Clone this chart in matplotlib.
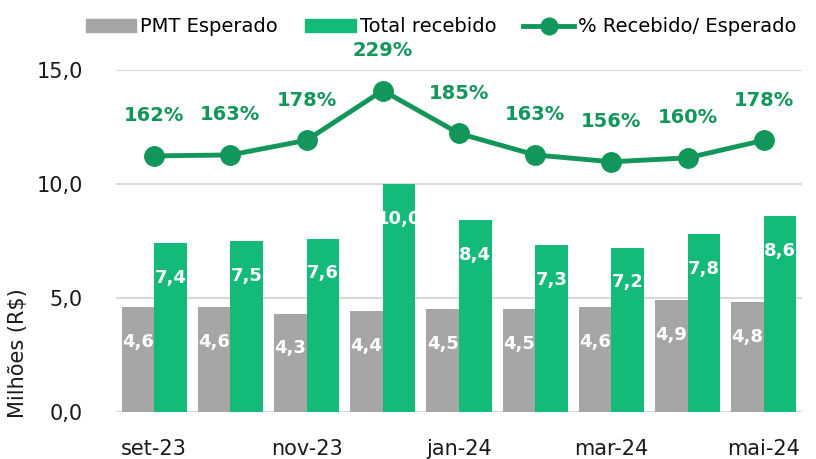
import matplotlib
matplotlib.use('Agg')
import matplotlib.pyplot as plt
import numpy as np
from matplotlib.patches import Patch
from matplotlib.lines import Line2D

## data ##
meses = ['set-23', 'out-23', 'nov-23', 'dez-23', 'jan-24', 'fev-24', 'mar-24', 'abr-24', 'mai-24']
pmt_esperado = [4.6, 4.6, 4.3, 4.4, 4.5, 4.5, 4.6, 4.9, 4.8]
total_recebido = [7.4, 7.5, 7.6, 10.0, 8.4, 7.3, 7.2, 7.8, 8.6]
pct_recebido = [1.62, 1.63, 1.78, 2.29, 1.85, 1.63, 1.56, 1.60, 1.78]

cinza = '#A6A6A6'
verde = '#13BA78'
verde_escuro = '#12965A'

plt.rcParams['font.family'] = ['DejaVu Sans']

fig = plt.figure(figsize=(8.16, 4.59), dpi=100)
ax = fig.add_axes([116/816, 1-411.7/459, 686/816, 341.7/459])

x = np.arange(len(meses))
w = 0.427
b1 = ax.bar(x - w/2, pmt_esperado, w, color=cinza, zorder=2)
b2 = ax.bar(x + w/2, total_recebido, w, color=verde, zorder=2)

def fmt(v):
    return f'{v:.1f}'.replace('.', ',')

for bars, vals in ((b1, pmt_esperado), (b2, total_recebido)):
    for r, v in zip(bars, vals):
        t = ax.annotate(fmt(v), (r.get_x() + r.get_width()/2, v),
                        xytext=(0, -25), textcoords='offset points',
                        ha='center', va='center', color='white',
                        fontsize=13, fontweight='bold', zorder=3)
        t.set_clip_path(r)

ax.set_xlim(-0.5, len(meses) - 0.5)
ax.set_ylim(0, 15)
ax.set_yticks([0, 5, 10, 15])
ax.set_yticklabels([fmt(v) for v in [0, 5, 10, 15]])
ax.set_xticks(x[::2])
ax.set_xticklabels(meses[::2])
ax.tick_params(axis='both', length=0, labelsize=15, colors='#1a1a1a')
ax.tick_params(axis='y', pad=24)
ax.tick_params(axis='x', pad=20)
ax.grid(axis='y', color='#D9D9D9', linewidth=1.5, zorder=0)
ax.set_axisbelow(True)
for s in ax.spines.values():
    s.set_visible(False)
ax.set_ylabel('Milhões (R$)', fontsize=15, color='#1a1a1a')
ax.yaxis.set_label_coords(-0.128, 0.17)

ax2 = ax.twinx()
ax2.plot(x, pct_recebido, color=verde_escuro, linewidth=3.5, marker='o',
         markersize=14, zorder=4)
ax2.set_ylim(-1.0, 2.5)
ax2.set_yticks([])
for s in ax2.spines.values():
    s.set_visible(False)
for xi, p in zip(x, pct_recebido):
    ax2.annotate(f'{p*100:.0f}%', (xi, p), xytext=(0, 29), textcoords='offset points',
                 ha='center', va='center', color=verde_escuro, fontsize=14,
                 fontweight='bold', annotation_clip=False)

handles = [Patch(color=cinza), Patch(color=verde),
           Line2D([], [], color=verde_escuro, linewidth=3.5, marker='o', markersize=12)]
fig.legend(handles, ['PMT Esperado', 'Total recebido', '% Recebido/ Esperado'],
           loc='center', bbox_to_anchor=(441/816, 1-27/459), ncol=3, frameon=False,
           fontsize=14, handlelength=2.6, handleheight=0.65, handletextpad=0.2,
           columnspacing=1.4, borderpad=0)

fig.savefig('out.png', dpi=100)
